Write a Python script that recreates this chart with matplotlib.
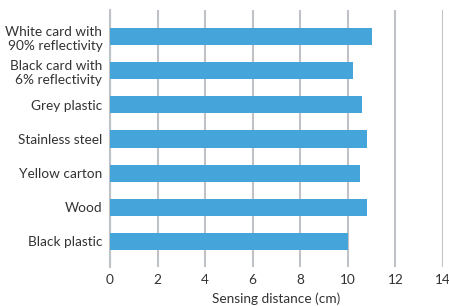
import matplotlib
matplotlib.use("Agg")
import matplotlib.pyplot as plt

categories = ["White card with\n90% reflectivity", "Black card with\n6% reflectivity", "Grey plastic",
              "Stainless steel", "Yellow carton", "Wood", "Black plastic"]
values = [11.0, 10.2, 10.6, 10.8, 10.5, 10.8, 10.0]
xticks = [0, 2, 4, 6, 8, 10, 12, 14]

plt.rcParams['font.family'] = ['Lato', 'DejaVu Sans']
text_color = '#333333'

fig = plt.figure(figsize=(4.49, 3.06), dpi=100)
ax = fig.add_axes([110/449, 1-267/306, 333/449, 257/306])

ypos = list(range(len(categories)))
ax.barh(ypos, values, height=0.5, color='#45a5db', zorder=3)
ax.set_ylim(len(categories) - 0.25, -0.78)
ax.set_xlim(0, 14)
ax.set_xticks(xticks)
ax.set_xticklabels([str(t) for t in xticks])
ax.set_yticks(ypos)
ax.set_yticklabels(categories, fontsize=9.8, color=text_color, linespacing=1.2)
ax.tick_params(axis='x', labelsize=9.8, colors=text_color, length=0, pad=5)
ax.tick_params(axis='y', length=0, pad=5.5)
ax.grid(axis='x', color='#bfc3c7', linewidth=1.5, zorder=0)
for s in ['top', 'right', 'bottom']:
    ax.spines[s].set_visible(False)
ax.spines['left'].set_color('#bfc3c7')
ax.spines['left'].set_linewidth(1.5)
ax.set_xlabel("Sensing distance (cm)", fontsize=9.8, color=text_color, labelpad=5)

fig.savefig("out.png", dpi=100)
